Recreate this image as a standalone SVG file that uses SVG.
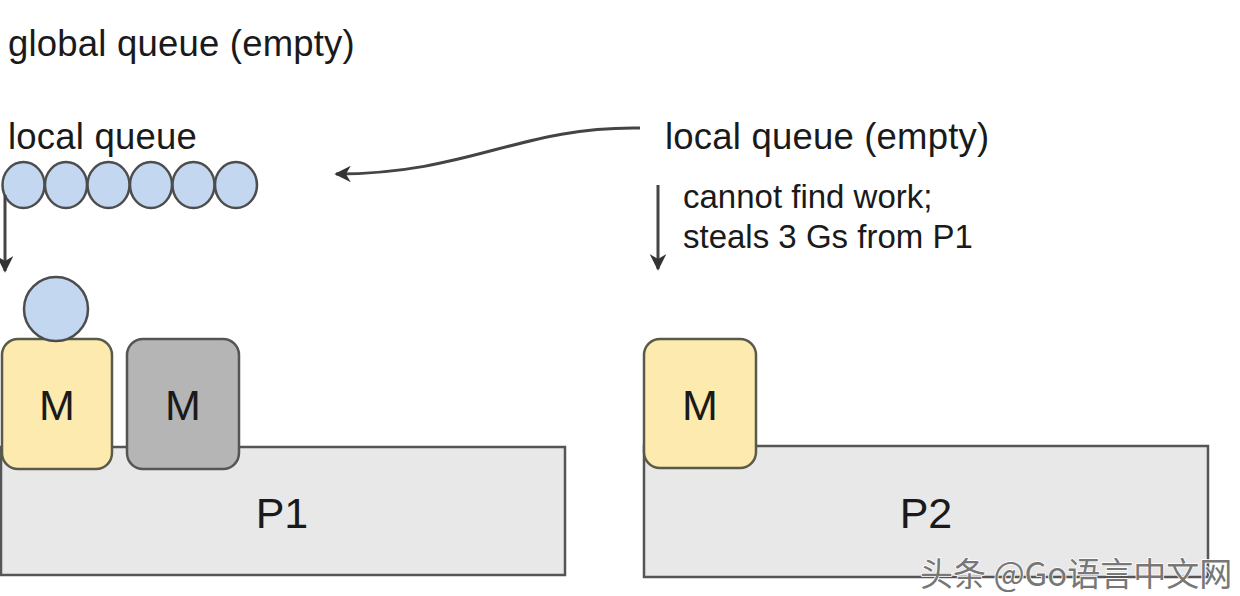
<svg xmlns="http://www.w3.org/2000/svg" width="1240" height="596" viewBox="0 0 1240 596">
  <defs>
    <style>
      .t { font-family: "Liberation Sans", Arial, sans-serif; fill: #1a1a1a; }
      .lbl { font-size: 36.5px; letter-spacing: 0.2px; }
      .note { font-size: 33px; }
      .big { font-size: 43px; text-anchor: middle; }
      .g { fill: #c3d7f0; stroke: #4d4d4d; stroke-width: 2.5; }
      .mY { fill: #fdeaae; stroke: #5a5a4a; stroke-width: 2.5; }
      .mG { fill: #b5b5b5; stroke: #555555; stroke-width: 2.5; }
      .p { fill: #e8e8e8; stroke: #555555; stroke-width: 2.5; }
      .conn { fill: none; stroke: #444444; stroke-width: 3; }
      .wm { font-family: "Noto Sans CJK SC", "Liberation Sans", sans-serif; font-size: 33px; fill: #777777; stroke: #ffffff; stroke-width: 1.5; paint-order: stroke; }
    </style>
    <marker id="ah" viewBox="0 0 10 10" refX="9" refY="5" markerWidth="5.5" markerHeight="5.5" orient="auto" markerUnits="strokeWidth">
      <path d="M0,0 L10,5 L0,10 L3,5 Z" fill="#333333"/>
    </marker>
  </defs>
  <rect width="1240" height="596" fill="#ffffff"/>

  <text class="t lbl" x="8" y="56">global queue (empty)</text>

  <g id="P1">
    <rect class="p" x="1" y="447" width="564" height="128"/>
    <text class="t big" x="282" y="528">P1</text>
  </g>
  <g id="P2">
    <rect class="p" x="644" y="446" width="564" height="131"/>
    <text class="t big" x="926" y="528">P2</text>
  </g>

  <g id="local-queue-p1">
    <text class="t lbl" x="8" y="149">local queue</text>
    <ellipse class="g" cx="23.5" cy="185" rx="21" ry="23"/>
    <ellipse class="g" cx="66" cy="185" rx="21" ry="23"/>
    <ellipse class="g" cx="108.5" cy="185" rx="21" ry="23"/>
    <ellipse class="g" cx="151" cy="185" rx="21" ry="23"/>
    <ellipse class="g" cx="193.5" cy="185" rx="21" ry="23"/>
    <ellipse class="g" cx="236" cy="185" rx="21" ry="23"/>
  </g>

  <g id="local-queue-p2">
    <text class="t lbl" x="665" y="149">local queue (empty)</text>
    <text class="t note" x="683" y="208">cannot find work;</text>
    <text class="t note" x="683" y="248">steals 3 Gs from P1</text>
  </g>

  <g id="M1">
    <rect class="mY" x="2" y="339" width="110" height="130" rx="16"/>
    <text class="t big" x="57" y="420">M</text>
  </g>
  <g id="G-running">
    <circle class="g" cx="56" cy="309" r="32"/>
  </g>
  <g id="M2">
    <rect class="mG" x="127" y="339" width="112" height="130" rx="16"/>
    <text class="t big" x="183" y="420">M</text>
  </g>
  <g id="M3">
    <rect class="mY" x="644" y="339" width="112" height="129" rx="16"/>
    <text class="t big" x="700" y="420">M</text>
  </g>

  <g id="connectors">
    <path class="conn" d="M640,128 C520,126 470,174 336,174" marker-end="url(#ah)"/>
    <path class="conn" d="M5,195 L5,271" marker-end="url(#ah)"/>
    <path class="conn" d="M658,185 L658,269" marker-end="url(#ah)"/>
  </g>

  <text class="wm" x="920" y="586">头条 @Go语言中文网</text>
</svg>
